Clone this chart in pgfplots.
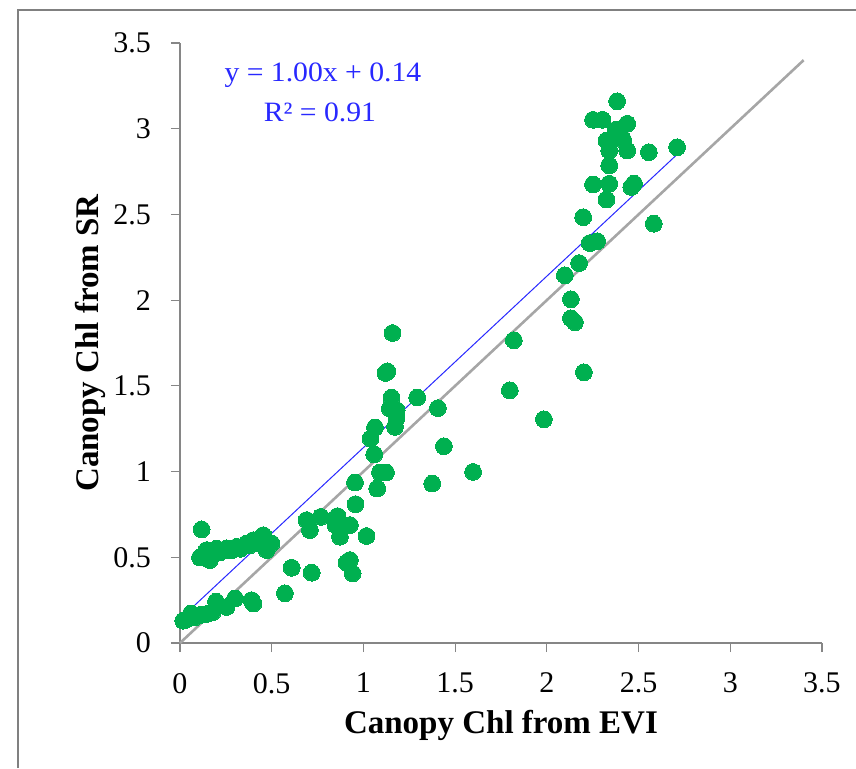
\documentclass[border=0pt]{standalone}
\usepackage{pgfplots}
\pgfplotsset{compat=1.18}
\usepackage{fontspec}
\setmainfont{Liberation Serif}
\newfontfamily\eqfont[FakeStretch=1.06]{Liberation Serif}
\definecolor{ptgreen}{RGB}{0,176,80}
\definecolor{oneline}{RGB}{166,166,166}
\definecolor{axgray}{RGB}{134,134,134}
\definecolor{framegray}{RGB}{128,128,128}
\definecolor{fitblue}{RGB}{40,40,255}
\begin{document}
\begin{tikzpicture}
\useasboundingbox (-90pt,-62.5pt) rectangle (338pt,321.5pt);
\draw[framegray, line width=1.1pt] (-81pt,-62.5pt) -- (-81pt,316.5pt) -- (338pt,316.5pt);
\begin{axis}[
  at={(0pt,0pt)}, anchor=origin,
  scale only axis, width=321pt, height=300pt,
  xmin=0, xmax=3.5, ymin=0, ymax=3.5,
  axis x line*=bottom, axis y line*=left,
  axis line style={draw=axgray, line width=0.6pt, -},
  xtick={0,0.5,...,3.5}, ytick={0,0.5,...,3.5},
  tick align=outside, major tick length=4.5pt,
  tick style={draw=axgray, line width=0.6pt},
  /pgf/number format/assume math mode=true,
  /pgf/number format/fixed,
  ticklabel style={font=\fontsize{15}{18}\selectfont},
  xticklabel style={yshift=-7pt},
  yticklabel style={xshift=-6.5pt},
  xlabel={Canopy Chl from EVI},
  ylabel={Canopy Chl from SR},
  label style={font=\fontsize{16.5}{19}\selectfont\bfseries},
  xlabel style={at={(axis description cs:0.5,0)}, anchor=center, yshift=-41pt},
  ylabel style={at={(axis description cs:0,0.5)}, anchor=center, xshift=0pt, yshift=45pt},
  clip=false,
]
\addplot[oneline, line width=1.3pt] coordinates {(0,0) (3.4,3.4)};
\addplot[only marks, color=ptgreen, mark=*, mark size=4.2pt, mark options={fill=ptgreen, draw=ptgreen, line width=0pt}] table {
x y
2.383 3.160
2.252 3.052
2.303 3.052
2.438 3.029
2.376 2.994
2.407 2.951
2.325 2.931
2.416 2.935
2.438 2.873
2.340 2.873
2.556 2.863
2.710 2.892
2.340 2.786
2.252 2.675
2.340 2.679
2.460 2.660
2.475 2.680
2.325 2.587
2.198 2.484
2.583 2.446
2.234 2.333
2.274 2.344
2.176 2.216
2.098 2.145
2.131 2.005
2.131 1.894
2.153 1.871
2.202 1.579
1.820 1.766
1.798 1.474
1.984 1.305
1.598 0.998
1.439 1.148
1.406 1.370
1.375 0.930
1.159 1.808
1.130 1.585
1.120 1.575
1.153 1.432
1.293 1.432
1.144 1.368
1.181 1.358
1.172 1.261
1.180 1.310
1.063 1.257
1.039 1.193
1.059 1.101
1.090 0.995
1.123 0.995
0.954 0.936
1.075 0.901
0.957 0.810
0.690 0.717
0.768 0.736
0.708 0.659
0.859 0.740
0.848 0.688
0.926 0.688
0.872 0.620
1.017 0.624
0.926 0.484
0.908 0.468
0.941 0.406
0.609 0.439
0.718 0.410
0.572 0.290
0.390 0.250
0.400 0.230
0.300 0.260
0.254 0.210
0.196 0.241
0.178 0.180
0.150 0.170
0.120 0.165
0.100 0.160
0.080 0.150
0.060 0.172
0.054 0.150
0.040 0.140
0.027 0.134
0.018 0.130
0.118 0.663
0.109 0.499
0.130 0.510
0.163 0.484
0.145 0.542
0.175 0.530
0.200 0.550
0.220 0.530
0.254 0.552
0.280 0.540
0.309 0.561
0.330 0.550
0.363 0.581
0.380 0.570
0.400 0.600
0.420 0.580
0.454 0.629
0.472 0.542
0.480 0.570
0.499 0.581
};
\addplot[fitblue, line width=0.5pt] coordinates {(0.02,0.16) (2.71,2.85)};
\node[fitblue, font=\eqfont\fontsize{14}{16}\selectfont] at (axis cs:0.779,3.31) {y = 1.00x + 0.14};
\node[fitblue, font=\eqfont\fontsize{14}{16}\selectfont] at (axis cs:0.763,3.094) {R² = 0.91};
\end{axis}
\end{tikzpicture}
\end{document}
